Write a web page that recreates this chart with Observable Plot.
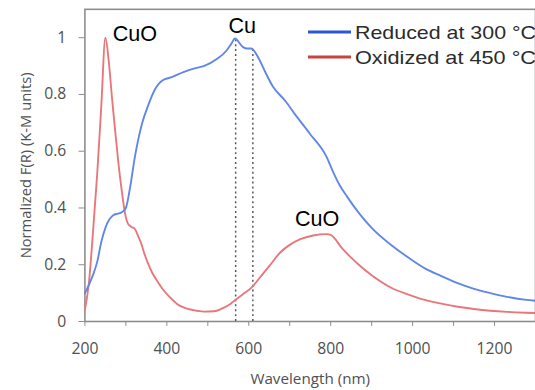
<!DOCTYPE html>
<html>
<head>
<meta charset="utf-8">
<script src="https://cdn.jsdelivr.net/npm/d3@7"></script>
<script src="https://cdn.jsdelivr.net/npm/@observablehq/plot@0.6"></script>
<style>
  html, body { margin: 0; padding: 0; background: #fff; }
  #wrap { position: relative; width: 535px; height: 390px; overflow: hidden; }
  #legend { position: absolute; left: 0; top: 0; }
</style>
</head>
<body>
<div id="wrap"></div>
<script>
// Reduced at 300 °C (blue)
const reducedNm = [200,210,220,230,240,250,260,270,280,290,300,310,322,330,340,354,370,390,410,442,470,490,522,546,558,566,586,596,606,625,640,658,690,714,750,790,805,822,840,870,900,950,1000,1030,1070,1110,1150,1190,1230,1278,1300];
const reducedVal = [0.10,0.13,0.165,0.21,0.28,0.33,0.36,0.375,0.38,0.385,0.40,0.47,0.58,0.64,0.70,0.76,0.815,0.85,0.86,0.88,0.893,0.90,0.925,0.955,0.98,0.997,0.967,0.962,0.962,0.925,0.88,0.83,0.776,0.728,0.66,0.58,0.53,0.48,0.44,0.38,0.33,0.267,0.215,0.187,0.16,0.135,0.115,0.10,0.087,0.076,0.073];
// Oxidized at 450 °C (red)
const oxidizedNm = [200,210,220,230,240,250,258,266,274,282,290,298,305,312,322,330,337,345,354,365,378,392,409,425,442,465,490,515,538,555,567,585,608,630,650,678,700,726,757,790,800,829,850,870,900,949,990,1030,1070,1110,1150,1190,1230,1278,1300];
const oxidizedVal = [0.04,0.14,0.32,0.52,0.76,1.0,0.92,0.79,0.67,0.555,0.46,0.38,0.345,0.335,0.326,0.30,0.277,0.24,0.205,0.17,0.139,0.11,0.083,0.062,0.049,0.04,0.035,0.036,0.048,0.062,0.076,0.095,0.121,0.16,0.195,0.245,0.27,0.29,0.303,0.308,0.305,0.256,0.225,0.198,0.163,0.118,0.095,0.076,0.063,0.052,0.044,0.038,0.034,0.031,0.030];
// Cu reference lines
const cuNm = [568, 610];
const cuTop = [1.0, 0.96];
// Peak annotations
const annLabels = ["CuO", "Cu", "CuO"];
const annNm = [322, 584, 767];
const annVal = [1.012, 1.04, 0.36];
// Axis ticks
const xTicks = [200,300,400,500,600,700,800,900,1000,1100,1200,1300];
const yTicks = [0, 0.2, 0.4, 0.6, 0.8, 1];
const seriesNames = ["Reduced at 300 \u00B0C", "Oxidized at 450 \u00B0C"];

const reduced = reducedNm.map((x, i) => ({x, y: reducedVal[i]}));
const oxidized = oxidizedNm.map((x, i) => ({x, y: oxidizedVal[i]}));
const cu = cuNm.map((x, i) => ({x, y: cuTop[i]}));
const ann = annLabels.map((t, i) => ({t, x: annNm[i], y: annVal[i]}));

const chart = Plot.plot({
  width: 545,
  height: 390,
  marginLeft: 86,
  marginRight: 0,
  marginTop: 9,
  marginBottom: 63,
  style: {fontFamily: "'Open Sans', sans-serif", fontSize: "16px", color: "#505050", background: "#fff", overflow: "visible"},
  x: {domain: [200, 1300]},
  y: {domain: [0, 1.1]},
  marks: [
    Plot.frame({stroke: "#8c8c8c", strokeWidth: 1.6}),
    Plot.axisX({ticks: xTicks, tickSize: 5, tickPadding: 17, stroke: "#8c8c8c",
      tickFormat: d => d % 200 === 0 ? String(d) : "",
      fill: "#505050", label: null}),
    Plot.axisX({ticks: [], label: "Wavelength (nm)", labelAnchor: "center", labelArrow: "none",
      labelOffset: 64, fontSize: 15.5, fill: "#505050"}),
    Plot.axisY({ticks: yTicks, tickSize: 6, tickPadding: 13, stroke: "#8c8c8c",
      tickFormat: d => String(+d.toFixed(1)),
      fill: "#505050", label: null}),
    Plot.axisY({ticks: [], label: "Normalized F(R) (K-M units)", labelAnchor: "center", labelArrow: "none",
      labelOffset: 66, fontSize: 15, fill: "#505050"}),
    Plot.ruleX(cu, {x: "x", y1: 0, y2: "y", stroke: "#555", strokeWidth: 1.5, strokeDasharray: "2,3"}),
    Plot.line(oxidized, {x: "x", y: "y", stroke: "#e8767a", strokeWidth: 1.9, curve: "monotone-x"}),
    Plot.line(reduced, {x: "x", y: "y", stroke: "#5f86e8", strokeWidth: 1.9, curve: "monotone-x"}),
    Plot.text(ann, {x: "x", y: "y", text: "t", fill: "#000", fontSize: 22, fontFamily: "'Liberation Sans', Arial, sans-serif", textAnchor: "middle"})
  ]
});
document.getElementById("wrap").appendChild(chart);

// Legend (inside plot area, top right)
const colors = ["#2c56d6", "#c8423f"];
const ns = "http://www.w3.org/2000/svg";
const leg = document.createElementNS(ns, "svg");
leg.setAttribute("id", "legend");
leg.setAttribute("width", 535);
leg.setAttribute("height", 80);
seriesNames.forEach((name, i) => {
  const cy = 32 + i * 25;
  const ln = document.createElementNS(ns, "line");
  ln.setAttribute("x1", 308); ln.setAttribute("x2", 351);
  ln.setAttribute("y1", cy); ln.setAttribute("y2", cy);
  ln.setAttribute("stroke", colors[i]); ln.setAttribute("stroke-width", 3);
  leg.appendChild(ln);
  const tx = document.createElementNS(ns, "text");
  tx.setAttribute("x", 355); tx.setAttribute("y", cy);
  tx.setAttribute("dy", "0.36em");
  tx.setAttribute("font-family", "'Liberation Sans', Arial, sans-serif");
  tx.setAttribute("font-size", 19);
  tx.setAttribute("fill", "#2b2b2b");
  tx.setAttribute("textLength", 181);
  tx.setAttribute("lengthAdjust", "spacingAndGlyphs");
  tx.textContent = name;
  leg.appendChild(tx);
});
document.getElementById("wrap").appendChild(leg);
</script>
</body>
</html>
